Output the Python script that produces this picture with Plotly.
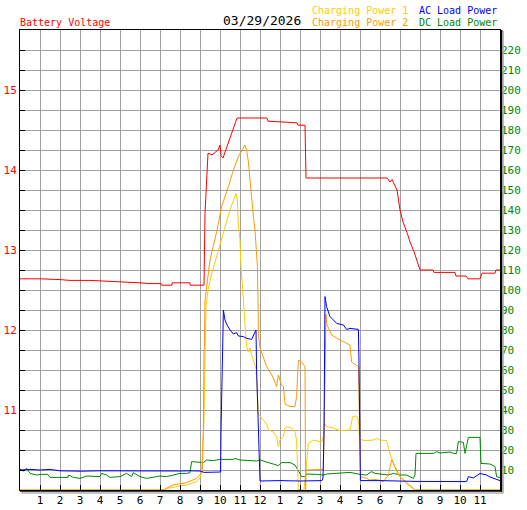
import plotly.graph_objects as go

# ---------------- data (hours of day 0-24) ----------------
date_label = "03/29/2026"

x_tick_vals = list(range(1, 24))
x_tick_text = ["1", "2", "3", "4", "5", "6", "7", "8", "9", "10", "11", "12",
               "1", "2", "3", "4", "5", "6", "7", "8", "9", "10", "11"]

volt_tick_vals = [10 + 0.25 * i for i in range(24)]
volt_label_vals = [11, 12, 13, 14, 15]
power_tick_vals = [10, 20, 30, 40, 50, 60, 70, 80, 90, 100, 110, 120, 130, 140,
                   150, 160, 170, 180, 190, 200, 210, 220]

volt_hours = [0, 1.0, 2.0, 2.5, 3.5, 4.5, 5.5, 6.0, 6.5, 7.05, 7.06, 7.6, 7.61, 8.5, 8.51,
              9.2, 9.25, 9.35, 9.4, 9.6, 9.9, 10.0, 10.05, 10.15, 10.5, 10.85, 12.35, 12.4,
              13.85, 13.9, 14.25, 14.3, 18.35, 18.5, 18.6, 18.85, 19.0, 19.15, 19.35, 19.5,
              19.7, 19.85, 20.0, 20.65, 20.7, 21.75, 21.8, 22.3, 22.4, 23.0, 23.1, 23.75,
              23.8, 24.0]
volt_values = [12.64, 12.64, 12.63, 12.62, 12.62, 12.61, 12.60, 12.59, 12.58, 12.58, 12.56,
               12.56, 12.59, 12.59, 12.56, 12.56, 13.46, 13.96, 14.21, 14.19, 14.25, 14.31,
               14.18, 14.15, 14.40, 14.65, 14.65, 14.61, 14.59, 14.56, 14.56, 13.90, 13.90,
               13.85, 13.88, 13.75, 13.50, 13.35, 13.22, 13.10, 12.98, 12.85, 12.75, 12.75,
               12.72, 12.72, 12.675, 12.675, 12.64, 12.64, 12.71, 12.71, 12.75, 12.75]

cp1_hours = [0, 7.3, 7.35, 8.33, 8.83, 9.0, 9.08, 9.17, 9.2, 9.25, 9.3, 9.4, 9.58, 9.92,
             10.25, 10.5, 10.8, 10.87, 10.92, 11.0, 11.03, 11.12, 11.17, 11.25, 11.33, 11.42,
             11.5, 11.58, 11.8, 11.92, 12.08, 12.33, 12.42, 12.67, 12.83, 12.92, 13.0, 13.17,
             13.25, 13.33, 13.58, 13.75, 13.83, 13.92, 14.2, 14.3, 14.42, 14.67, 15.08, 15.17,
             15.25, 15.33, 15.67, 16.0, 16.5, 16.63, 16.83, 16.92, 16.97, 17.08, 17.33, 17.67,
             17.83, 18.0, 18.33, 18.5, 18.67, 18.83, 19.0, 19.33, 19.67, 19.75, 24.0]
cp1_values = [0, 0, 0.8, 2.5, 4.2, 6, 10, 25, 35, 66.7, 91.7, 100, 108, 120,
              131.7, 140, 148.3, 145, 131.7, 125, 115, 101.7, 90, 78, 71.7, 69,
              71, 67.5, 61, 38, 36, 33, 30, 29, 26.7, 21.7, 25, 26.7,
              31, 31.7, 31, 29, 25, 0, 0, 10, 23.3, 25, 24, 26.7,
              33, 31.7, 31, 29.7, 30, 36.7, 37, 35, 26.7, 25, 24.7, 25,
              25.8, 25, 24.7, 18.3, 13.3, 9, 6.7, 4, 0.8, 0, 0]

cp2_hours = [0, 7.15, 7.65, 8.33, 8.83, 9.08, 9.12, 9.15, 9.17, 9.2, 9.22, 9.25, 9.5, 9.83,
             10.08, 10.42, 10.67, 10.92, 11.25, 11.33, 11.42, 11.5, 11.58, 11.67, 11.75,
             11.83, 11.87, 11.9, 11.92, 12.0, 12.17, 12.33, 12.5, 12.67, 12.83, 12.92, 13.0,
             13.08, 13.17, 13.25, 13.5, 13.75, 13.83, 13.92, 14.08, 14.25, 14.28, 14.3,
             15.17, 15.25, 15.3, 15.33, 15.5, 15.58, 16.0, 16.33, 16.5, 16.58, 16.83, 16.92,
             16.95, 17.0, 17.03, 17.33, 17.5, 17.83, 18.17, 18.42, 18.58, 18.67, 18.83,
             19.0, 19.33, 19.75, 24.0]
cp2_values = [0, 0, 2.5, 3.7, 5.8, 8.5, 10, 27, 31, 70, 72, 95, 115, 129,
              141.7, 151.7, 160, 166.7, 172.5, 170, 164, 155, 145, 136.7, 130,
              120, 111.7, 95, 78, 71, 66.7, 61.7, 59, 56, 51.7, 57.5, 55,
              52.5, 51.7, 43, 41.7, 41.7, 46.7, 65, 64, 61.7, 0, 10,
              10.3, 73.3, 88, 83, 79, 77.5, 75, 73.3, 72.5, 64, 62.5, 61.7,
              48, 21.7, 6.7, 5.8, 5, 5.3, 4.2, 7.5, 15, 13.3, 10,
              6.7, 3.3, 0, 0]

ac_hours = [0, 0.5, 1.0, 1.5, 2.0, 3.0, 4.0, 5.0, 6.0, 7.0, 8.0, 8.5, 9.0, 9.2, 9.5, 9.9,
            10.03, 10.05, 10.17, 10.25, 10.33, 10.5, 10.67, 10.83, 10.92, 11.17, 11.33,
            11.58, 11.67, 11.8, 11.83, 11.92, 11.97, 12.0, 13.0, 14.0, 15.1, 15.15, 15.2,
            15.25, 15.33, 15.5, 15.67, 15.83, 16.17, 16.33, 16.5, 16.92, 16.95, 16.97,
            17.0, 17.02, 18.0, 19.75, 22.33, 22.42, 22.67, 22.83, 23.0, 23.1, 23.33, 23.5,
            23.67, 24.0]
ac_values = [10, 10.3, 10, 10.3, 9.6, 9.4, 9.6, 9.5, 9.5, 9.6, 9.5, 9.6, 9.5, 8.8, 9, 9,
             9, 29, 90, 85, 83, 80, 78, 78.7, 77, 76.7, 75.8,
             75.3, 77.5, 80, 60, 23, 5, 4.5, 4.7, 4.5, 4.7, 6, 28.5,
             96.7, 91.7, 86.7, 85, 83.3, 82.5, 80.3, 80.8, 80.3, 63, 40,
             5.8, 4.7, 4.7, 4.3, 4.2, 6.7, 6, 7, 8.3, 8, 7.5, 6.5,
             5.8, 4.7]

dc_hours = [0, 0.17, 0.33, 0.5, 0.83, 1.0, 1.4, 1.5, 2.4, 2.42, 2.67, 3.0, 3.33, 4.0, 4.08,
            4.33, 4.5, 5.0, 5.33, 5.58, 5.67, 6.0, 6.33, 6.67, 7.0, 7.33, 8.0, 8.33, 8.5,
            8.58, 9.17, 9.33, 9.67, 10.0, 10.67, 10.75, 11.0, 11.5, 11.83, 12.0, 12.25,
            12.5, 12.92, 13.08, 13.5, 13.75, 13.92, 14.08, 14.25, 14.33, 14.83, 15.17,
            15.33, 15.83, 16.5, 17.0, 17.33, 17.58, 17.75, 18.0, 18.42, 18.67, 19.0, 19.33,
            19.5, 19.67, 19.75, 19.8, 20.67, 20.83, 21.0, 21.5, 21.67, 21.83, 21.92, 22.17,
            22.25, 22.33, 22.42, 23.0, 23.05, 23.5, 23.75, 23.83, 24.0]
dc_values = [10.3, 9.5, 10.8, 8.3, 7.5, 7.8, 7.8, 6.3, 6.3, 7.5, 6.3, 5.8, 7, 6.7, 8.3,
             7.5, 6.3, 6.7, 8.3, 6.7, 8.7, 6.7, 5.8, 6.5, 7, 6.7, 8.3, 8.3, 8.7,
             14.2, 13.7, 15, 14.7, 15.3, 15.3, 15.8, 15, 14.7, 14.5, 15, 14.2,
             13.3, 12.2, 13.7, 13.7, 12.5, 9.2, 6.7, 6.7, 8, 7.8, 7.5,
             8, 8.3, 8.8, 7.8, 7.5, 9.2, 8.3, 8, 7.5, 8.3, 7.5, 7.5,
             6.7, 5.8, 7.5, 18.3, 18.3, 19.2, 18.5, 19, 18.3, 18.3, 24.2, 23.8,
             18.3, 21.7, 26.3, 26.3, 13.3, 13, 11.7, 6.7, 6.2]

# ---------------- styling ----------------
RED = "#FF0000"
GOLD = "#FFCC00"
ORANGE = "#FF9900"
BLUE = "#0000FF"
GREEN = "#008800"
GRID = "#A0A0A0"
MONO = "DejaVu Sans Mono"

fig = go.Figure()
fig.add_trace(go.Scatter(x=dc_hours, y=dc_values, mode="lines", yaxis="y2",
                         line=dict(color=GREEN, width=1), name="DC Load Power"))
fig.add_trace(go.Scatter(x=cp1_hours, y=cp1_values, mode="lines", yaxis="y2",
                         line=dict(color=GOLD, width=1), name="Charging Power 1"))
fig.add_trace(go.Scatter(x=cp2_hours, y=cp2_values, mode="lines", yaxis="y2",
                         line=dict(color=ORANGE, width=1), name="Charging Power 2"))
fig.add_trace(go.Scatter(x=ac_hours, y=ac_values, mode="lines", yaxis="y2",
                         line=dict(color=BLUE, width=1), name="AC Load Power"))
fig.add_trace(go.Scatter(x=volt_hours, y=volt_values, mode="lines", yaxis="y",
                         line=dict(color=RED, width=1), name="Battery Voltage"))

volt_tick_text = [str(int(v)) if v in volt_label_vals else "" for v in volt_tick_vals]

fig.update_layout(
    template="none",
    width=527, height=510,
    margin=dict(l=20, r=27, t=30, b=20, pad=0, autoexpand=False),
    paper_bgcolor="white", plot_bgcolor="white",
    showlegend=False,
    font=dict(family=MONO, size=10, color="black"),
    xaxis=dict(range=[0, 24], tickmode="array", tickvals=x_tick_vals, ticktext=x_tick_text,
               ticks="inside", ticklen=5, tickcolor="black", tickwidth=1, automargin=False,
               showgrid=True, gridcolor=GRID, gridwidth=1, zeroline=False,
               showline=True, linecolor="black", linewidth=1, mirror=True,
               tickfont=dict(family=MONO, size=11, color="black"), fixedrange=True),
    yaxis=dict(range=[10, 15.75], tickmode="array", tickvals=volt_tick_vals,
               ticktext=volt_tick_text, ticks="inside", ticklen=5, tickcolor="black",
               showgrid=True, gridcolor=GRID, gridwidth=1, zeroline=False, automargin=False,
               showline=True, linecolor="black", linewidth=1, mirror=True,
               tickfont=dict(family=MONO, size=11, color=RED), fixedrange=True),
    yaxis2=dict(range=[0, 230], overlaying="y", side="right", tickmode="array",
                tickvals=power_tick_vals, ticktext=[str(v) for v in power_tick_vals],
                ticks="", showgrid=False, zeroline=False, showline=False, automargin=False,
                tickfont=dict(family=MONO, size=11, color=GREEN), fixedrange=True),
)

# frame shadow on right and bottom
fig.add_shape(type="line", xref="paper", yref="paper", x0=1.0035, x1=1.0035, y0=-0.004,
              y1=1.0, line=dict(color="black", width=1.5))
fig.add_shape(type="line", xref="paper", yref="paper", x0=0, x1=1.0035, y0=-0.002,
              y1=-0.002, line=dict(color="black", width=1.5))
fig.add_shape(type="line", xref="paper", yref="paper", x0=1.0065, x1=1.0065, y0=-0.007,
              y1=0.998, line=dict(color="#B0B0B0", width=1.5))
fig.add_shape(type="line", xref="paper", yref="paper", x0=0.003, x1=1.0065, y0=-0.0065,
              y1=-0.0065, line=dict(color="#B0B0B0", width=1.5))

def label(text, x, y, color, size=10):
    fig.add_annotation(text=text, xref="paper", yref="paper", x=x, y=y, xanchor="left",
                       yanchor="middle", showarrow=False,
                       font=dict(family=MONO, size=size, color=color))

label("Battery Voltage", -0.004, 1.0163, RED, 10)
label(date_label, 0.418, 1.0217, "black", 13)
label("Charging Power 1", 0.604, 1.0424, GOLD, 10)
label("Charging Power 2", 0.604, 1.0163, ORANGE, 10)
label("AC Load Power", 0.828, 1.0424, BLUE, 10)
label("DC Load Power", 0.828, 1.0163, GREEN, 10)

fig.write_html("out.html", config={"displayModeBar": False, "staticPlot": True},
               post_script="document.body.style.margin='0';document.body.style.padding='0';")
